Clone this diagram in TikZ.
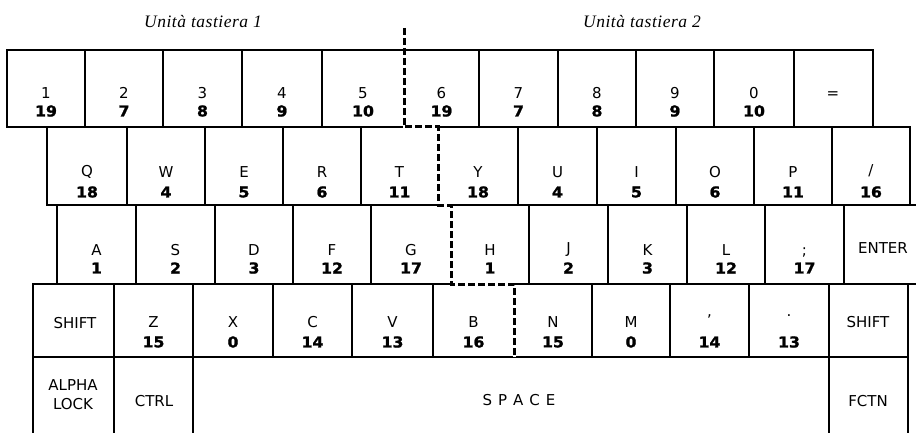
\documentclass[tikz,border=0pt]{standalone}
\usepackage{fontspec}
\setmainfont{DejaVu Sans}
\newfontfamily\hdrfont[LetterSpace=3]{Liberation Serif}
\newfontfamily\numfont[BoldFeatures={FakeBold=1.3, FakeStretch=1.05}]{DejaVu Sans}
\tikzset{
  keybox/.style={draw, line width=1.5pt, inner sep=0pt, outer sep=0pt, anchor=center},
  toplab/.style={font=\fontsize{15}{18}\selectfont, inner sep=0pt, anchor=center},
  botlab/.style={font=\numfont\bfseries\fontsize{15}{18}\selectfont, inner sep=0pt, anchor=center},
  hdr/.style={font=\hdrfont\itshape\fontsize{17.5}{20}\selectfont, inner sep=0pt},
  divider/.style={line width=3pt, dash pattern=on 7pt off 3pt,
    preaction={draw=white, solid, line width=3pt}},
}
% name, x1, x2, y1, y2
\newcommand\kbbox[5]{%
  \node[keybox, minimum width={(#3-#2)*1pt}, minimum height={(#5-#4)*1pt}] (#1) at ({(#2+#3)/2},{(#4+#5)/2}) {};}
% name, x1, x2, y1, y2, top, bottom, ytop, ybottom
\newcommand\kbkey[9]{%
  \kbbox{#1}{#2}{#3}{#4}{#5}%
  \node[toplab] (#1-t) at ({(#2+#3)/2},#8) {#6};
  \node[botlab] (#1-b) at ({(#2+#3)/2},#9) {#7};}
\begin{document}
\begin{tikzpicture}[x=1pt,y=-1pt]
\useasboundingbox (0,0) rectangle (916,433);
\clip (0,0) rectangle (916,433);
\fill[white] (0,0) rectangle (916,433);

\node[hdr] (h1) at (203,22) {Unità tastiera 1};
\node[hdr] (h2) at (642,22) {Unità tastiera 2};

% Row 1
\kbkey{k1}{7}{85}{50}{127}{1}{19}{93}{111}
\kbkey{k2}{85}{163}{50}{127}{2}{7}{93}{111}
\kbkey{k3}{163}{242}{50}{127}{3}{8}{93}{111}
\kbkey{k4}{242}{322}{50}{127}{4}{9}{93}{111}
\kbkey{k5}{322}{404}{50}{127}{5}{10}{93}{111}
\kbkey{k6}{404}{479}{50}{127}{6}{19}{93}{111}
\kbkey{k7}{479}{558}{50}{127}{7}{7}{93}{111}
\kbkey{k8}{558}{636}{50}{127}{8}{8}{93}{111}
\kbkey{k9}{636}{714}{50}{127}{9}{9}{93}{111}
\kbkey{k0}{714}{794}{50}{127}{0}{10}{93}{111}
\kbbox{keq}{794}{873}{50}{127}
\node[toplab] (keq-t) at (833,95) {=};

% Row 2
\kbkey{kQ}{47}{127}{127}{205}{Q}{18}{172}{192}
\kbkey{kW}{127}{205}{127}{205}{W}{4}{172}{192}
\kbkey{kE}{205}{283}{127}{205}{E}{5}{172}{192}
\kbkey{kR}{283}{361}{127}{205}{R}{6}{172}{192}
\kbkey{kT}{361}{438}{127}{205}{T}{11}{172}{192}
\kbkey{kY}{438}{518}{127}{205}{Y}{18}{172}{192}
\kbkey{kU}{518}{597}{127}{205}{U}{4}{172}{192}
\kbkey{kI}{597}{676}{127}{205}{I}{5}{172}{192}
\kbkey{kO}{676}{754}{127}{205}{O}{6}{172}{192}
\kbkey{kP}{754}{832}{127}{205}{P}{11}{172}{192}
\kbkey{kSl}{832}{910}{127}{205}{/}{16}{171}{192}

% Row 3
\kbkey{kA}{57}{136}{205}{284}{A}{1}{250}{268}
\kbkey{kS}{136}{215}{205}{284}{S}{2}{250}{268}
\kbkey{kD}{215}{293}{205}{284}{D}{3}{250}{268}
\kbkey{kF}{293}{371}{205}{284}{F}{12}{250}{268}
\kbkey{kG}{371}{451}{205}{284}{G}{17}{250}{268}
\kbkey{kH}{451}{529}{205}{284}{H}{1}{250}{268}
\kbkey{kJ}{529}{608}{205}{284}{J}{2}{250}{268}
\kbkey{kK}{608}{687}{205}{284}{K}{3}{250}{268}
\kbkey{kL}{687}{765}{205}{284}{L}{12}{250}{268}
\kbkey{kSc}{765}{844}{205}{284}{;}{17}{252}{268}
\kbbox{kEnter}{844}{930}{205}{284}
\node[toplab] (kEnter-t) at (883,248) {ENTER};

% Row 4
\kbbox{kLS}{33}{114}{284}{357}
\node[toplab] (kLS-t) at (75,323) {SHIFT};
\kbkey{kZ}{114}{193}{284}{357}{Z}{15}{322}{342}
\kbkey{kX}{193}{273}{284}{357}{X}{0}{322}{342}
\kbkey{kC}{273}{352}{284}{357}{C}{14}{322}{342}
\kbkey{kV}{352}{433}{284}{357}{V}{13}{322}{342}
\kbkey{kB}{433}{514}{284}{357}{B}{16}{322}{342}
\kbkey{kN}{514}{592}{284}{357}{N}{15}{322}{342}
\kbkey{kM}{592}{670}{284}{357}{M}{0}{322}{342}
\kbkey{kCm}{670}{749}{284}{357}{,}{14}{316}{342}
\kbkey{kPd}{749}{829}{284}{357}{.}{13}{316}{342}
\kbbox{kRS}{829}{908}{284}{357}
\node[toplab] (kRS-t) at (868,322) {SHIFT};

% Row 5
\kbbox{kAL}{33}{114}{357}{445}
\node[toplab, align=center, font=\fontsize{15}{19}\selectfont] (kAL-t) at (73,394.5) {ALPHA\\LOCK};
\kbbox{kCt}{114}{193}{357}{445}
\node[toplab] (kCt-t) at (154,401) {CTRL};
\kbbox{kSp}{193}{829}{357}{445}
\node[toplab] (kSp-t) at (519,400) {S\hspace{6pt}P\hspace{6pt}A\hspace{6pt}C\hspace{6pt}E};
\kbbox{kFn}{829}{908}{357}{445}
\node[toplab] (kFn-t) at (868,401) {FCTN};

% Divider between the two keyboard units
\coordinate (d0) at (404,28);
\draw[divider] (d0) -- (k5.south east) -- (kT.north east) -- (kT.south east)
  -- (kH.north west) -- (kH.south west) -- (kB.north east) -- (kB.south east);
\end{tikzpicture}
\end{document}
